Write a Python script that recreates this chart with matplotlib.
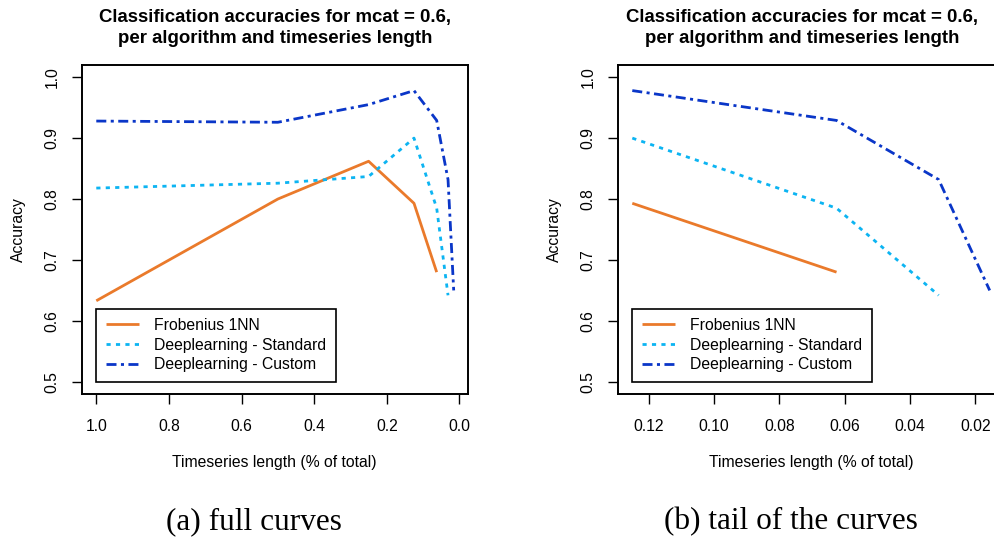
import matplotlib.pyplot as plt

plt.rcParams['font.family'] = ['Liberation Sans', 'DejaVu Sans']

# timeseries length (fraction of total) and accuracies
lengths = [1.0, 0.5, 0.25, 0.125, 0.0625, 0.03125, 0.015625]
frobenius = [0.633, 0.800, 0.862, 0.793, 0.680]
dl_standard = [0.818, 0.826, 0.837, 0.900, 0.785, 0.642]
dl_custom = [0.928, 0.926, 0.955, 0.978, 0.929, 0.832, 0.650]

labels = ["Frobenius 1NN", "Deeplearning - Standard", "Deeplearning - Custom"]
colors = ["#EA7A2B", "#0CB4F2", "#0A36C8"]
styles = ["-", (0, (1.5, 1.9)), (0, (3.6, 1.6, 1.1, 1.6))]

title = "Classification accuracies for mcat = 0.6,\nper algorithm and timeseries length"

W, H = 994, 538
fig = plt.figure(figsize=(W / 100, H / 100), dpi=100)

AX_W = 386  # axes width in px
AX_H = 329  # axes height in px


def px_axes(left, top):
    return fig.add_axes([left / W, 1 - (top + AX_H) / H, AX_W / W, AX_H / H])


def r_lim(lo, hi):
    d = (hi - lo) * 0.04
    return lo - d, hi + d


def panel(ax, start, xticks, xfmt, title_x, label_x):
    series = [frobenius, dl_standard, dl_custom]
    for vals, lab, c, ls in zip(series, labels, colors, styles):
        ax.plot(lengths[start:len(vals)], vals[start:], color=c, linestyle=ls, lw=2.0,
                label=lab, dash_capstyle='butt', solid_capstyle='butt')
    a, b = r_lim(lengths[-1], lengths[start])
    ax.set_xlim(b, a)
    ax.set_ylim(*r_lim(0.5, 1.0))
    ax.set_yticks([0.5, 0.6, 0.7, 0.8, 0.9, 1.0])
    ax.set_yticklabels(["0.5", "0.6", "0.7", "0.8", "0.9", "1.0"], rotation=90, va='center')
    ax.set_xticks(xticks)
    ax.set_xticklabels([xfmt % t for t in xticks])
    for s in ax.spines.values():
        s.set_linewidth(1.4)
    ax.tick_params(direction='out', length=7, width=1.0, labelsize=11.3, pad=9)
    ax.tick_params(axis='x', pad=11)
    ax.set_title(title, fontsize=13.4, fontweight='bold', pad=16, linespacing=1.3, x=title_x / AX_W)
    ax.set_xlabel("Timeseries length (% of total)", fontsize=11.3)
    ax.xaxis.set_label_coords(label_x / AX_W, -(455 - 394) / AX_H)
    ax.set_ylabel("Accuracy", fontsize=11.3)
    ax.yaxis.set_label_coords(-56 / AX_W, 0.5)
    leg = ax.legend(loc='lower left', bbox_to_anchor=(lengths[start], 0.5), bbox_transform=ax.transData,
                    borderaxespad=0, fancybox=False, edgecolor='black', framealpha=1,
                    fontsize=11.3, handlelength=2.1, handletextpad=1.0, labelspacing=0.3,
                    borderpad=0.6)
    leg.get_frame().set_linewidth(1.2)


# (a) full curves
ax1 = px_axes(82, 65)
panel(ax1, 0, [1.0, 0.8, 0.6, 0.4, 0.2, 0.0], "%.1f", 275 - 82, 274 - 82)

# (b) tail of the curves, axes runs past the figure edge like the cropped original
ax2 = px_axes(618, 65)
panel(ax2, 3, [0.12, 0.10, 0.08, 0.06, 0.04, 0.02], "%.2f", 802 - 618, 811 - 618)

fig.text(254 / W, 1 - 522 / H, "(a) full curves", family=['Liberation Serif', 'DejaVu Serif'],
         fontsize=22.5, ha='center', va='center')
fig.text(791 / W, 1 - 522 / H, "(b) tail of the curves", family=['Liberation Serif', 'DejaVu Serif'],
         fontsize=22.5, ha='center', va='center')

fig.savefig("out.png", dpi=100)
